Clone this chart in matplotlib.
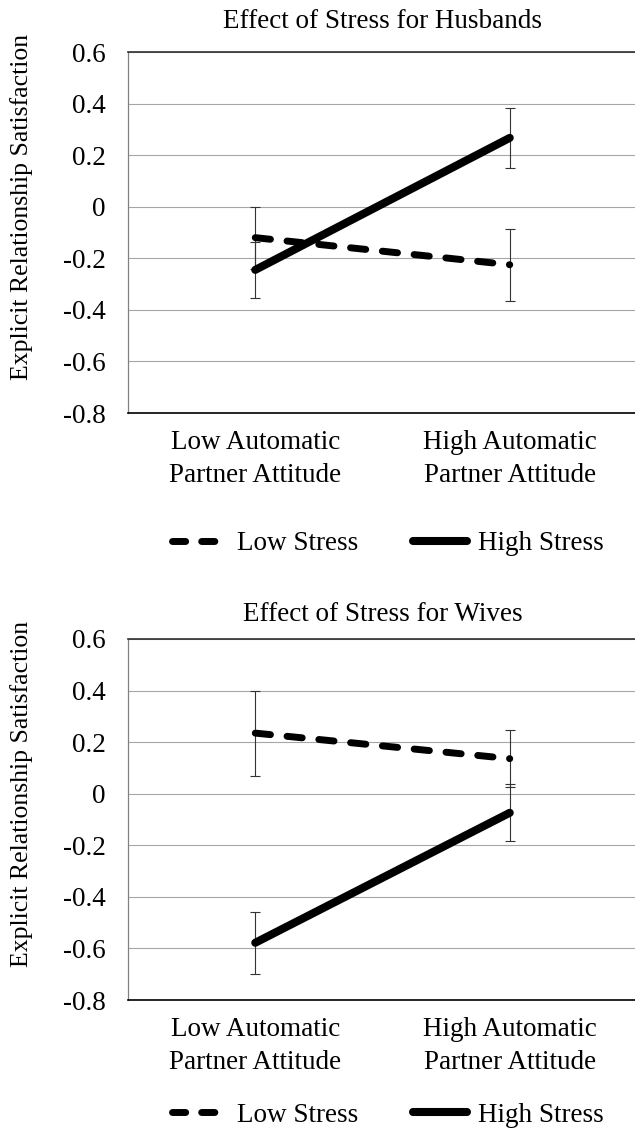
import matplotlib
matplotlib.use("Agg")
import matplotlib.pyplot as plt
from matplotlib.lines import Line2D

plt.rcParams['font.family'] = ['Liberation Serif', 'DejaVu Serif']

categories = ["Low Automatic\nPartner Attitude", "High Automatic\nPartner Attitude"]
series_names = ["Low Stress", "High Stress"]
yticks = [0.6, 0.4, 0.2, 0, -0.2, -0.4, -0.6, -0.8]
ytick_labels = ["0.6", "0.4", "0.2", "0", "-0.2", "-0.4", "-0.6", "-0.8"]

husb_low = [-0.12, -0.225]
husb_low_err = [0.12, 0.14]
husb_high = [-0.245, 0.267]
husb_high_err = [0.11, 0.115]

wives_low = [0.235, 0.136]
wives_low_err = [0.165, 0.11]
wives_high = [-0.578, -0.074]
wives_high_err = [0.12, 0.11]

titles = ["Effect of Stress for Husbands", "Effect of Stress for Wives"]
ylabel = "Explicit Relationship Satisfaction"

FS = 19.5
W, H = 635, 1130
fig = plt.figure(figsize=(W / 100, H / 100), dpi=100)

panels = [
    (titles[0], husb_low, husb_low_err, husb_high, husb_high_err, 413, 17, 544),
    (titles[1], wives_low, wives_low_err, wives_high, wives_high_err, 1000, 13, 1115),
]

xs = [1, 2]
for title, lo, lo_e, hi, hi_e, bot_px, tpad, leg_px in panels:
    top_px = bot_px - 361
    ax = fig.add_axes([128 / W, 1 - bot_px / H, 509 / W, 361 / H])
    ax.set_xlim(0.5, 2.5)
    ax.set_ylim(-0.8, 0.6)
    ax.set_yticks(yticks)
    ax.set_yticklabels(ytick_labels)
    ax.set_xticks(xs)
    ax.set_xticklabels(categories, linespacing=1.45)
    ax.tick_params(axis='both', length=0, labelsize=FS)
    ax.tick_params(axis='y', pad=16)
    ax.tick_params(axis='x', pad=12)
    ax.grid(axis='y', color='#a6a6a6', lw=0.8)
    ax.set_axisbelow(True)
    ax.spines['right'].set_visible(False)
    ax.spines['top'].set_color('#303030')
    ax.spines['top'].set_linewidth(1.2)
    ax.spines['left'].set_color('#808080')
    ax.spines['left'].set_linewidth(0.9)
    ax.spines['bottom'].set_color('black')
    ax.spines['bottom'].set_linewidth(1.2)

    ax.errorbar(xs, lo, yerr=lo_e, fmt='none', ecolor='#333333', elinewidth=0.8,
                capsize=3.4, capthick=0.8, zorder=3)
    ax.errorbar(xs, hi, yerr=hi_e, fmt='none', ecolor='#333333', elinewidth=0.8,
                capsize=3.4, capthick=0.8, zorder=3)
    ax.plot(xs, lo, color='black', lw=5, ls=(0, (2.2, 2.4)),
            dash_capstyle='round', solid_capstyle='round', zorder=4)
    ax.plot(xs, hi, color='black', lw=5.8, solid_capstyle='round', zorder=4)

    ax.set_title(title, fontsize=FS, pad=tpad)
    fig.text(22 / W, 1 - (top_px + 155) / H, ylabel, rotation=90,
             fontsize=18.5, ha='center', va='center')

    handles = [
        Line2D([], [], color='black', lw=5, ls=(0, (1.9, 2.3)), dash_capstyle='round'),
        Line2D([], [], color='black', lw=5.8, solid_capstyle='round'),
    ]
    ax.legend(handles, series_names, loc='center',
              bbox_to_anchor=(388 / W, 1 - leg_px / H),
              bbox_transform=fig.transFigure, ncol=2, frameon=False,
              fontsize=FS, handlelength=2.0, handletextpad=0.4, columnspacing=2.0,
              borderpad=0, borderaxespad=0)

fig.savefig("out.png", dpi=100)
